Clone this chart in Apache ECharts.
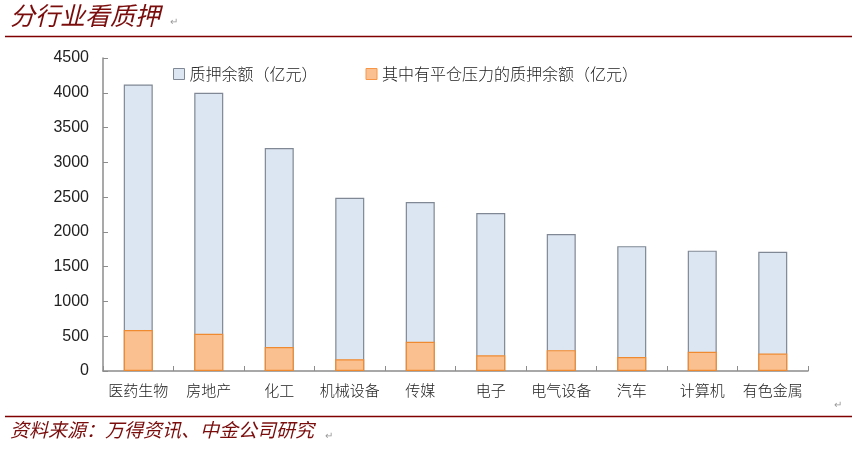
<!DOCTYPE html>
<html><head><meta charset="utf-8">
<script src="https://cdn.jsdelivr.net/npm/echarts@6/dist/echarts.min.js"></script>
<style>html,body{margin:0;padding:0;background:#fff}#c{width:857px;height:453px}</style>
</head><body><div id="c"></div>
<script>
const categories = ['医药生物','房地产','化工','机械设备','传媒','电子','电气设备','汽车','计算机','有色金属'];
const pledgeTotal = [4120, 4000, 3205, 2490, 2430, 2270, 1970, 1795, 1730, 1715];
const pledgePressure = [590, 535, 345, 170, 420, 225, 300, 200, 275, 250];
const yTicks = [0, 500, 1000, 1500, 2000, 2500, 3000, 3500, 4000, 4500];
const seriesNames = ['质押余额（亿元）', '其中有平仓压力的质押余额（亿元）'];

const chart = echarts.init(document.getElementById('c'), null, {renderer: 'canvas'});
const red = '#7a0c0c';
const cjk = '"Noto Sans CJK SC", sans-serif';
chart.setOption({
  animation: false,
  backgroundColor: '#fff',
  grid: {left: 103, right: 49, top: 58, bottom: 82},
  legend: {
    top: 61, left: 168, itemWidth: 11, itemHeight: 11, itemGap: 48,
    textStyle: {fontFamily: cjk, fontSize: 16, color: '#222', fontWeight: 300},
    data: [
      {name: seriesNames[0], icon: 'rect', itemStyle: {color: '#DCE6F2', borderColor: '#7f8894', borderWidth: 1}},
      {name: seriesNames[1], icon: 'rect', itemStyle: {color: '#FAC090', borderColor: '#F79646', borderWidth: 1}}
    ]
  },
  xAxis: {
    type: 'category', data: categories,
    axisLine: {lineStyle: {color: '#8c8c8c', width: 1.5}},
    axisTick: {show: true, inside: true, length: 5, alignWithLabel: false, lineStyle: {color: '#8c8c8c'}},
    axisLabel: {fontFamily: cjk, fontSize: 15, color: '#222', margin: 12, interval: 0, fontWeight: 300}
  },
  yAxis: {
    type: 'value', min: yTicks[0], max: yTicks[yTicks.length - 1], interval: 500,
    splitLine: {show: false},
    axisLine: {show: true, lineStyle: {color: '#8c8c8c', width: 1.5}},
    axisTick: {show: true, inside: true, length: 5, lineStyle: {color: '#8c8c8c'}},
    axisLabel: {fontFamily: 'Arial, "Liberation Sans", sans-serif', fontSize: 16, color: '#222', margin: 14,
      formatter: v => String(v)}
  },
  series: [
    {name: seriesNames[0], type: 'bar', data: pledgeTotal, barWidth: 29, barGap: '-100%',
     itemStyle: {color: '#DCE6F2', borderColor: '#7f8894', borderWidth: 1.2}},
    {name: seriesNames[1], type: 'bar', data: pledgePressure, barWidth: 29, barGap: '-100%', z: 3,
     itemStyle: {color: '#FAC090', borderColor: '#F08a30', borderWidth: 1.2}}
  ],
  graphic: [
    {type: 'text', left: 10, top: 3, style: {text: '分行业看质押', font: 'italic 25px "Noto Sans CJK SC"', fill: red}},
    {type: 'text', left: 170, top: 17, style: {text: '↵', font: '10px sans-serif', fill: '#999'}},
    {type: 'line', shape: {x1: 5, y1: 36.5, x2: 852, y2: 36.5}, style: {stroke: '#800000', lineWidth: 1.5}},
    {type: 'line', shape: {x1: 5, y1: 416.5, x2: 852, y2: 416.5}, style: {stroke: '#800000', lineWidth: 1.5}},
    {type: 'text', left: 10, top: 420, style: {text: '资料来源：万得资讯、中金公司研究', font: 'italic 19px "Noto Sans CJK SC"', fill: red}},
    {type: 'text', left: 325, top: 431, style: {text: '↵', font: '10px sans-serif', fill: '#999'}},
    {type: 'text', left: 834, top: 400, style: {text: '↵', font: '10px sans-serif', fill: '#999'}}
  ]
});
</script></body></html>
